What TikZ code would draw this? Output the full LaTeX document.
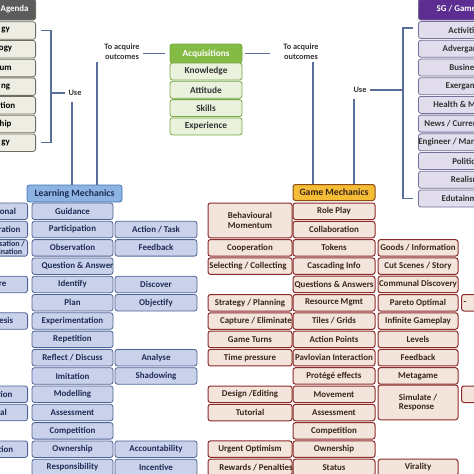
\documentclass[tikz,border=0pt]{standalone}
\usepackage{fontspec}
\setmainfont{Carlito}
\usetikzlibrary{positioning,calc}
\definecolor{linkblue}{HTML}{5A6E9C}
\definecolor{paghead}{HTML}{5C5C5C}
\definecolor{pagfill}{HTML}{EEEDE3}
\definecolor{pagline}{HTML}{6E6E60}
\definecolor{sghead}{HTML}{5E2D92}
\definecolor{sgfill}{HTML}{E1DDEC}
\definecolor{sgline}{HTML}{76709A}
\definecolor{acqhead}{HTML}{84BB45}
\definecolor{acqfill}{HTML}{EAF1DD}
\definecolor{acqline}{HTML}{76A843}
\definecolor{lmhead}{HTML}{8DB3E2}
\definecolor{lmheadline}{HTML}{3F74B5}
\definecolor{lmfill}{HTML}{C9D2EA}
\definecolor{lmline}{HTML}{4D6396}
\definecolor{lmtext}{HTML}{1E2B55}
\definecolor{gmhead}{HTML}{F5BD35}
\definecolor{gmheadline}{HTML}{8A4A12}
\definecolor{gmfill}{HTML}{F3E5DB}
\definecolor{gmline}{HTML}{8C2A2A}
\definecolor{gmtext}{HTML}{3A2418}
\definecolor{labelgray}{HTML}{333333}
% text wider than its box runs over the border
\newcommand{\spill}[1]{\makebox[0pt]{#1}}

\begin{document}
\begin{tikzpicture}[
    x=1pt, y=-1pt,
    every node/.style={font=\bfseries\fontsize{8.9}{9.5}\selectfont},
    cell/.style={draw=#1, rounded corners=2.5pt, line width=0.8pt, inner sep=0pt},
    pabox/.style={cell=pagline, fill=#1, minimum width=60pt, minimum height=17.5pt},
    sgbox/.style={cell=sgline, fill=#1, minimum width=94pt, minimum height=17pt},
    acqbox/.style={cell=acqline, fill=#1, minimum width=72pt, minimum height=17pt,
                   font=\bfseries\fontsize{9.3}{10}\selectfont},
    lmbox/.style={cell=lmline, fill=lmfill, text=lmtext, minimum width=#1, minimum height=16.5pt},
    gmbox/.style={cell=gmline, fill=gmfill, text=gmtext, line width=1pt, minimum width=#1, minimum height=16.5pt},
    usetext/.style={text=labelgray, font=\bfseries\fontsize{8.3}{10}\selectfont, align=center},
    link/.style={draw=linkblue, line width=1.2pt}
]
    \useasboundingbox (0,0) rectangle (474,474);
    \clip (0,0) rectangle (474,474);

    % Pedagogy agenda (runs off the left edge)
    \node[pabox=paghead, text=white, minimum width=42pt, minimum height=21pt, anchor=east] (pah) at (36, 9.5) {Agenda};
    \foreach \r/\t in {1/gy, 2/ogy, 3/um, 4/ng, 5/ation, 6/hip, 7/gy}
        \node[pabox=pagfill, anchor=east] (pa\r) at (36, {11.8+18.7*\r}) {\t};

    \coordinate (brL) at (51, 93);
    \draw[link] ([xshift=5pt]pa1.east) -| (brL) |- ([xshift=5pt]pa7.east);
    \node[usetext] (useL) at (75, 93) {Use};
    \draw[link] (brL) -- (useL);

    % Acquisitions
    \node[usetext] (acqL) at (122, 52) {To acquire\\outcomes};
    \node[acqbox=acqhead, text=white, minimum height=19pt] (acq) at (206, 53.5) {Acquisitions};
    \foreach \r/\t in {1/Knowledge, 2/Attitude, 3/Skills, 4/Experience}
        \node[acqbox=acqfill, text=black!80] (acq\r) at (206, {53.2+18.3*\r}) {\t};
    \node[usetext] (acqR) at (301, 52) {To acquire\\outcomes};
    \draw[link, shorten >=5pt] (acqL.east |- acq.west) -- (acq.west);
    \draw[link, shorten <=3pt, shorten >=10pt] (acq.east) -- (acq.east -| acqR.west);

    % SG / Game agenda (runs off the right edge)
    \node[sgbox=sghead, text=white, minimum width=106pt, minimum height=21pt, anchor=west] (sgh) at (418, 9.5) {SG / Game Agenda};
    \foreach \r/\t in {1/Activities, 2/Advergames, 3/Business, 4/Exergames, 5/{Health \& Medical},
                       6/{News / Current Affairs}, 7/{Engineer / Manufacturing}, 8/Politics, 9/Realism, 10/Edutainment}
        \node[sgbox=sgfill, text=black!80, anchor=west] (sg\r) at (418, {11.3+18.72*\r}) {\t};

    \coordinate (brR) at (403, 90);
    \draw[link] ([xshift=-5pt, yshift=2pt]sg1.west) -| (brR) |- ([xshift=-5pt]sg10.west);
    \node[usetext] (useR) at (360, 90) {Use};
    \draw[link] (useR) -- (brR);

    % Learning mechanics
    \node[cell=lmheadline, fill=lmhead, text=lmtext, minimum width=95pt, minimum height=17pt,
          font=\bfseries\fontsize{9.7}{10}\selectfont] (lmh) at (74.5, 193.5) {Learning Mechanics};
    \foreach \r/\t in {0/Guidance, 1/Participation, 2/Observation, 3/{\spill{\hspace*{10pt}Question \& Answer}},
                       4/Identify, 5/Plan, 6/Experimentation, 7/Repetition, 8/{Reflect / Discuss},
                       9/Imitation, 10/Modelling, 11/Assessment, 12/Competition, 13/Ownership, 14/Responsibility}
        \node[lmbox=81pt] (lm\r) at (72.5, {211.25+18.3*\r}) {\t};
    \foreach \r/\t in {1/{Action / Task}, 2/Feedback, 4/Discover, 5/Objectify, 8/Analyse, 9/Shadowing,
                       13/Accountability, 14/Incentive}
        \node[lmbox=82pt] (lmr\r) at (156, {211.25+18.3*\r}) {\t};
    \foreach \r/\t in {0/Instructional, 1/Demonstration, 4/Explore, 6/Hypothesis, 10/Simulation, 11/Tutorial, 13/Motivation}
        \node[lmbox=70pt, anchor=east] (lml\r) at (28, {211.25+18.3*\r}) {\t};
    \node[lmbox=59pt, anchor=east, align=center, font=\bfseries\fontsize{8}{8}\selectfont]
        (lml2) at (28, 247.85) {\spill{Generalisation /}\\\spill{Discrimination}};

    % Game mechanics
    \node[cell=gmheadline, fill=gmhead, text=gmtext, line width=1pt, minimum width=82pt, minimum height=16pt,
          font=\bfseries\fontsize{9.7}{10}\selectfont] (gmh) at (334, 192.5) {Game Mechanics};
    \foreach \r/\t in {0/Role Play, 1/Collaboration, 2/Tokens, 3/Cascading Info, 4/{\spill{Questions \& Answers}},
                       5/Resource Mgmt, 6/{Tiles / Grids}, 7/Action Points, 8/{\spill{Pavlovian Interaction}},
                       9/Protégé effects, 10/Movement, 11/Assessment, 12/Competition, 13/Ownership, 14/Status}
        \node[gmbox=82pt] (gm\r) at (334, {211.25+18.3*\r}) {\t};
    \foreach \r/\t in {2/Cooperation, 3/{\spill{Selecting / Collecting\hspace*{4pt}}}, 5/{Strategy / Planning},
                       6/{\spill{\hspace*{12pt}Capture / Eliminate}}, 7/Game Turns, 8/Time pressure,
                       10/{Design /Editing}, 11/Tutorial, 13/Urgent Optimism, 14/{\spill{\hspace*{12pt}Rewards / Penalties}}}
        \node[gmbox=84pt] (gml\r) at (250, {211.25+18.3*\r}) {\t};
    \node[gmbox=84pt, minimum height=34.8pt, align=center] (gml0) at (250, 220.4) {Behavioural\\Momentum};
    \foreach \r/\t in {2/{Goods / Information}, 3/{Cut Scenes / Story}, 4/{\spill{Communal Discovery}}, 5/Pareto Optimal,
                       6/Infinite Gameplay, 7/Levels, 8/Feedback, 9/Metagame, 14/Virality}
        \node[gmbox=80pt] (gmr\r) at (418, {211.25+18.3*\r}) {\t};
    \node[gmbox=80pt, minimum height=34.8pt, align=left] (gmr10) at (418, 402.4) {Simulate /\\Response};
    \node[gmbox=60pt, anchor=west, text width=60pt, align=left] (gmx5) at (461, 302.75) {\hspace*{2pt}-};
    \node[gmbox=60pt, anchor=west] (gmx10) at (461, 394.25) {};

    % Connectors down to the mechanics
    \coordinate (tL) at (97, 62);
    \draw[link] (tL) -- (tL |- lmh.north);
    \draw[link, shorten <=3pt] ([xshift=-3pt]useL.south) -- ([xshift=-3pt]useL.south |- lmh.north);
    \coordinate (tR) at (313, 62);
    \draw[link] (tR) -- (tR |- gmh.north);
    \draw[link, shorten <=3pt] ([xshift=-6pt]useR.south) -- ([xshift=-6pt]useR.south |- gmh.north);
\end{tikzpicture}
\end{document}
